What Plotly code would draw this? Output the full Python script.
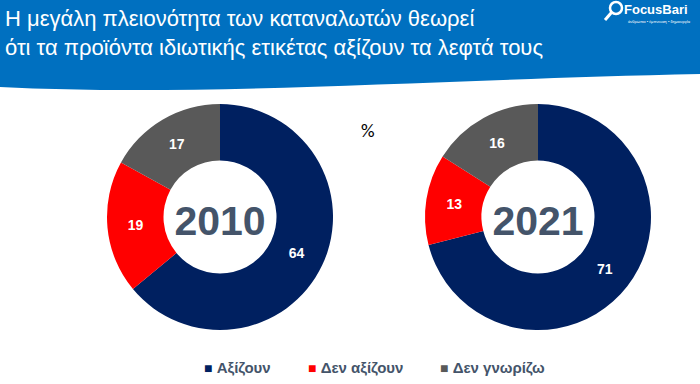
import plotly.graph_objects as go

labels = ["Αξίζουν", "Δεν αξίζουν", "Δεν γνωρίζω"]
values_2010 = [64, 19, 17]
values_2021 = [71, 13, 16]
years = ["2010", "2021"]
colors = ["#002060", "#FF0000", "#595959"]

W, H = 700, 384

def px(x):
    return x / W

def py(y):
    return 1 - y / H

fig = go.Figure()

domains = [
    dict(x=[px(107), px(333)], y=[py(330), py(104)]),
    dict(x=[px(425), px(651)], y=[py(330), py(104)]),
]

for i, (vals, yr) in enumerate(zip([values_2010, values_2021], years)):
    fig.add_trace(go.Pie(
        labels=labels,
        values=vals,
        hole=0.5,
        sort=False,
        direction="clockwise",
        rotation=0,
        marker=dict(colors=colors, line=dict(width=0)),
        texttemplate="<b>%{value}</b>",
        textposition="inside",
        insidetextorientation="horizontal",
        textfont=dict(color="white", size=14, family="Arial, Liberation Sans"),
        domain=domains[i],
        showlegend=False,
        name=yr,
        hoverinfo="label+value",
        title=dict(text=f"<b>{yr}</b>", font=dict(size=41, color="#44546A", family="Arial, Liberation Sans")),
    ))

header_path = (
    f"M 0,1 L 1,1 L 1,{py(74)} "
    f"C {px(420)},{py(80)} {px(200)},{py(97)} 0,{py(87)} Z"
)

legend_x = [202, 306, 438]
legend_ann = [
    dict(text=f"<span style='font-size:14px;color:{c}'>■</span> <b>{lab}</b>",
         xref="paper", yref="paper", x=px(lx), y=py(367),
         xanchor="left", yanchor="middle", showarrow=False,
         font=dict(size=15, color="#44546A", family="Arial, Liberation Sans"))
    for lab, c, lx in zip(labels, colors, legend_x)
]

fig.update_layout(
    width=W,
    height=H,
    margin=dict(l=0, r=0, t=0, b=0, autoexpand=False),
    paper_bgcolor="white",
    plot_bgcolor="white",
    font=dict(family="Arial, Liberation Sans"),
    showlegend=False,
    shapes=[
        dict(type="path", xref="paper", yref="paper", path=header_path,
             fillcolor="#0070C0", line=dict(width=0), layer="below"),
        dict(type="circle", xref="paper", yref="paper",
             x0=px(610), x1=px(622), y0=py(14), y1=py(2),
             line=dict(color="white", width=2.5)),
        dict(type="line", xref="paper", yref="paper",
             x0=px(611.5), y0=py(12.5), x1=px(605), y1=py(20),
             line=dict(color="white", width=3)),
    ],
    annotations=[
        dict(text="Η μεγάλη πλειονότητα των καταναλωτών θεωρεί<br>ότι τα προϊόντα ιδιωτικής ετικέτας αξίζουν τα λεφτά τους",
             xref="paper", yref="paper", x=px(3), y=py(4), xanchor="left", yanchor="top",
             align="left", showarrow=False,
             font=dict(size=22, color="white", family="Arial, Liberation Sans")),
        dict(text="<b>FocusBari</b>", xref="paper", yref="paper", x=px(622), y=py(0),
             xanchor="left", yanchor="top", showarrow=False,
             font=dict(size=13, color="white", family="Arial, Liberation Sans")),
        dict(text="άνθρωποι • έμπνευση • δημιουργία", xref="paper", yref="paper", x=px(693), y=py(17),
             xanchor="right", yanchor="top", showarrow=False,
             font=dict(size=4, color="white", family="Arial, Liberation Sans")),
        dict(text="%", xref="paper", yref="paper", x=px(368), y=py(131),
             xanchor="center", yanchor="middle", showarrow=False,
             font=dict(size=19, color="black", family="Carlito, Liberation Sans")),
    ] + legend_ann,
)

fig.write_html(
    "out.html",
    config={"displayModeBar": False},
    post_script="document.body.style.margin='0';document.body.style.overflow='hidden';",
)
